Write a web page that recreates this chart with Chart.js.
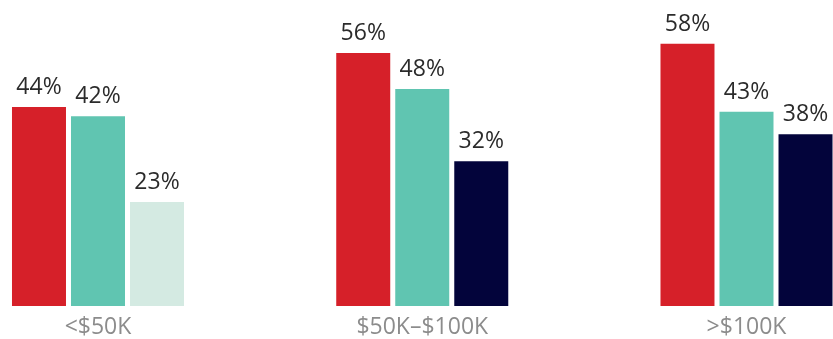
<!DOCTYPE html>
<html>
<head>
<meta charset="utf-8">
<script src="https://cdn.jsdelivr.net/npm/chart.js@4"></script>
<style>
  html,body{margin:0;padding:0;background:#fff;}
  #wrap{width:833px;height:339px;position:relative;}
</style>
</head>
<body>
<div id="wrap"><canvas id="income-bars"></canvas></div>
<script>
// ===================== DADOS =====================
const faixas      = ['<$50K', '$50K\u2013$100K', '>$100K'];
const serieA      = [44, 56, 58];
const serieB      = [42, 48, 43];
const serieC      = [23, 32, 38];
const corA        = '#d62029';
const corB        = '#60c5b1';
const coresC      = ['#d4eae2', '#03043b', '#03043b'];

// rótulo "NN%" em cima de cada barra
const pctLabels = {
  id:'pctLabels',
  afterDatasetsDraw(chart){
    const ctx = chart.ctx;
    ctx.save();
    ctx.font = '23px "Open Sans"';
    ctx.fillStyle = '#2b2b2b';
    ctx.textAlign = 'center';
    ctx.textBaseline = 'alphabetic';
    chart.data.datasets.forEach((ds,di)=>{
      chart.getDatasetMeta(di).data.forEach((bar,i)=>{
        ctx.fillText(ds.data[i]+'%', bar.x, bar.y - 13);
      });
    });
    ctx.restore();
  }
};

const ds = (data,color)=>({data, backgroundColor:color, borderWidth:0, clip:false,
  categoryPercentage:0.546, barPercentage:0.915});

new Chart(document.getElementById('income-bars').getContext('2d'),{
  type:'bar',
  data:{labels:faixas, datasets:[ds(serieA,corA), ds(serieB,corB), ds(serieC,coresC)]},
  options:{responsive:true, maintainAspectRatio:false, animation:false,
    layout:{padding:{left:98, right:86.5, top:0, bottom:0}},
    plugins:{legend:{display:false}, tooltip:{enabled:false}},
    scales:{
      x:{offset:false, grid:{display:false, drawTicks:false}, border:{display:false},
         ticks:{color:'#8c8c8c', padding:8, font:{family:'Open Sans', size:23}},
         afterFit(scale){ scale.height = 33; }},
      y:{display:false, min:0, max:67.7}
    }}
  ,plugins:[pctLabels]
});
</script>
</body>
</html>
